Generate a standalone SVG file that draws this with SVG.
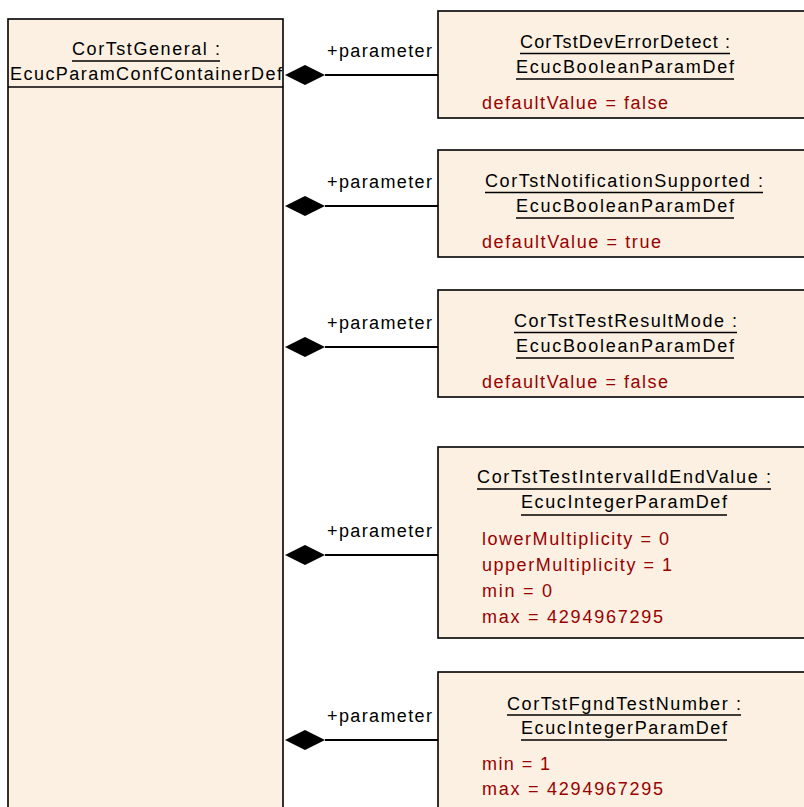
<svg xmlns="http://www.w3.org/2000/svg" width="804" height="807" viewBox="0 0 804 807">
<style>
.box{fill:#FBF0E2;stroke:#000;stroke-width:1.6}
.t{font-family:"Liberation Sans",Arial,sans-serif;font-size:18px;fill:#000}
.a{font-family:"Liberation Sans",Arial,sans-serif;font-size:18px;fill:#990000}
.u{stroke:#000;stroke-width:1.5}
.c{stroke:#000;stroke-width:2;fill:none}
.d{fill:#000}
</style>
<rect width="804" height="807" fill="#fff"/>
<g id="CorTstGeneral">
<rect class="box" x="8" y="19" width="275" height="800"/>
<text class="t" x="72" y="55" textLength="148" lengthAdjust="spacing">CorTstGeneral :</text>
<line class="u" x1="72" y1="61" x2="220" y2="61"/>
<text class="t" x="10" y="80" textLength="272" lengthAdjust="spacing">EcucParamConfContainerDef</text>
<line class="u" x1="8" y1="87" x2="283" y2="87"/>
</g>
<g id="CorTstDevErrorDetect">
<rect class="box" x="438" y="11" width="380" height="107"/>
<text class="t" x="520" y="48" textLength="210" lengthAdjust="spacing">CorTstDevErrorDetect :</text>
<line class="u" x1="520" y1="53.5" x2="730" y2="53.5"/>
<text class="t" x="516" y="73" textLength="218" lengthAdjust="spacing">EcucBooleanParamDef</text>
<line class="u" x1="516" y1="79" x2="734" y2="79"/>
<text class="a" x="482" y="109" textLength="186" lengthAdjust="spacing">defaultValue = false</text>
</g>
<g id="CorTstNotificationSupported">
<rect class="box" x="438" y="150" width="380" height="107"/>
<text class="t" x="485" y="187" textLength="278" lengthAdjust="spacing">CorTstNotificationSupported :</text>
<line class="u" x1="485" y1="192.5" x2="763" y2="192.5"/>
<text class="t" x="516" y="212" textLength="218" lengthAdjust="spacing">EcucBooleanParamDef</text>
<line class="u" x1="516" y1="218" x2="734" y2="218"/>
<text class="a" x="482" y="248" textLength="179" lengthAdjust="spacing">defaultValue = true</text>
</g>
<g id="CorTstTestResultMode">
<rect class="box" x="438" y="290" width="380" height="107"/>
<text class="t" x="514" y="327" textLength="223" lengthAdjust="spacing">CorTstTestResultMode :</text>
<line class="u" x1="514" y1="332.5" x2="737" y2="332.5"/>
<text class="t" x="516" y="352" textLength="218" lengthAdjust="spacing">EcucBooleanParamDef</text>
<line class="u" x1="516" y1="358" x2="734" y2="358"/>
<text class="a" x="482" y="388" textLength="186" lengthAdjust="spacing">defaultValue = false</text>
</g>
<g id="CorTstTestIntervalIdEndValue">
<rect class="box" x="438" y="447" width="380" height="191"/>
<text class="t" x="477" y="483" textLength="294" lengthAdjust="spacing">CorTstTestIntervalIdEndValue :</text>
<line class="u" x1="477" y1="489" x2="771" y2="489"/>
<text class="t" x="521" y="508" textLength="206" lengthAdjust="spacing">EcucIntegerParamDef</text>
<line class="u" x1="521" y1="515" x2="727" y2="515"/>
<text class="a" x="482" y="545" textLength="187" lengthAdjust="spacing">lowerMultiplicity = 0</text>
<text class="a" x="482" y="571" textLength="190" lengthAdjust="spacing">upperMultiplicity = 1</text>
<text class="a" x="482" y="597" textLength="70" lengthAdjust="spacing">min = 0</text>
<text class="a" x="482" y="623" textLength="181" lengthAdjust="spacing">max = 4294967295</text>
</g>
<g id="CorTstFgndTestNumber">
<rect class="box" x="438" y="672" width="380" height="160"/>
<text class="t" x="507" y="710" textLength="234" lengthAdjust="spacing">CorTstFgndTestNumber :</text>
<line class="u" x1="507" y1="715" x2="741" y2="715"/>
<text class="t" x="521" y="734" textLength="206" lengthAdjust="spacing">EcucIntegerParamDef</text>
<line class="u" x1="521" y1="740" x2="727" y2="740"/>
<text class="a" x="482" y="770" textLength="68" lengthAdjust="spacing">min = 1</text>
<text class="a" x="482" y="795" textLength="181" lengthAdjust="spacing">max = 4294967295</text>
</g>
<g id="connectors">
<line class="c" x1="325" y1="75" x2="438" y2="75"/>
<polygon class="d" points="285,75 305,65 325,75 305,85"/>
<text class="t" x="327" y="57" textLength="105" lengthAdjust="spacing">+parameter</text>
<line class="c" x1="325" y1="206" x2="438" y2="206"/>
<polygon class="d" points="285,206 305,196 325,206 305,216"/>
<text class="t" x="327" y="188" textLength="105" lengthAdjust="spacing">+parameter</text>
<line class="c" x1="325" y1="347" x2="438" y2="347"/>
<polygon class="d" points="285,347 305,337 325,347 305,357"/>
<text class="t" x="327" y="329" textLength="105" lengthAdjust="spacing">+parameter</text>
<line class="c" x1="325" y1="555" x2="438" y2="555"/>
<polygon class="d" points="285,555 305,545 325,555 305,565"/>
<text class="t" x="327" y="537" textLength="105" lengthAdjust="spacing">+parameter</text>
<line class="c" x1="325" y1="740" x2="438" y2="740"/>
<polygon class="d" points="285,740 305,730 325,740 305,750"/>
<text class="t" x="327" y="722" textLength="105" lengthAdjust="spacing">+parameter</text>
</g>
</svg>
